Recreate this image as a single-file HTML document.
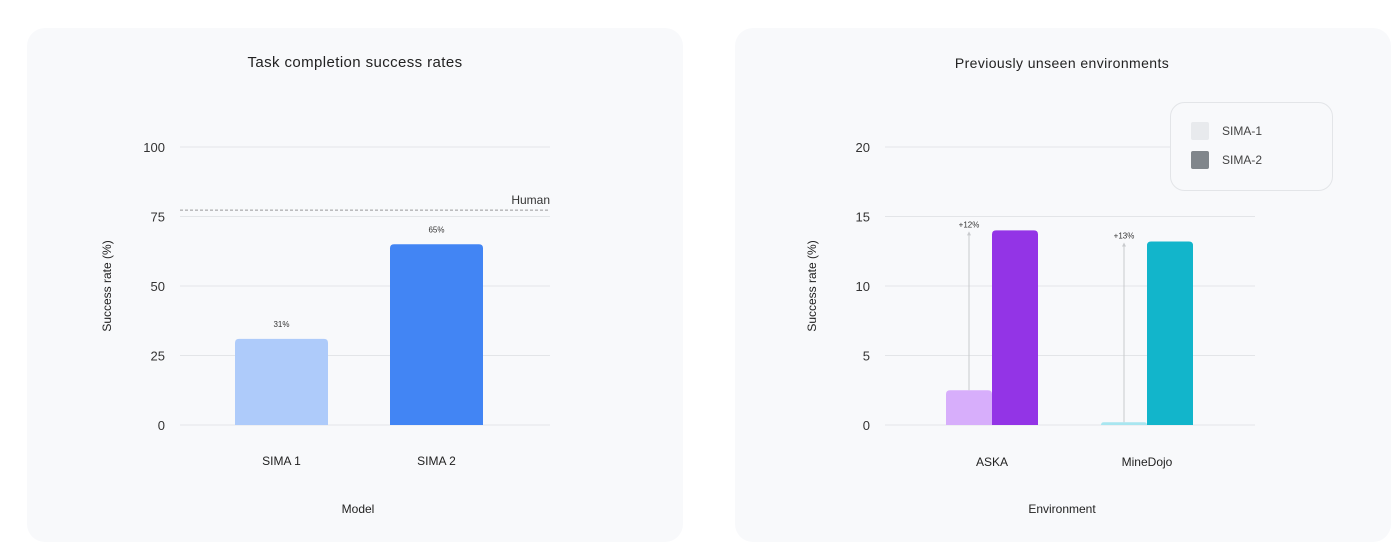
<!DOCTYPE html>
<html><head><meta charset="utf-8"><style>
body{margin:0;width:1400px;height:553px;background:#fff;font-family:"Liberation Sans",sans-serif;overflow:hidden}
.card{position:absolute;top:28px;height:514px;background:#f8f9fb;border-radius:18px}
svg{position:absolute;left:0;top:0}
</style></head><body>
<div class="card" style="left:27px;width:656px"></div>
<div class="card" style="left:735px;width:656px"></div>
<svg id="s" width="1400" height="553"></svg>
<script>
const leftCats=["SIMA 1","SIMA 2"];
const leftVals=[31,65];
const leftLabels=["31%","65%"];
const leftTicks=[0,25,50,75,100];
const humanVal=77.3;
const rightCats=["ASKA","MineDojo"];
const sima1Vals=[2.5,0.2];
const sima2Vals=[14.0,13.2];
const gainLabels=["+12%","+13%"];
const rightTicks=[0,5,10,15,20];

const NS="http://www.w3.org/2000/svg";
const s=document.getElementById('s');
function mk(t,a,txt){const e=document.createElementNS(NS,t);for(const k in a)e.setAttribute(k,a[k]);if(txt!=null)e.textContent=txt;s.appendChild(e);return e;}
function bar(x,y0,w,yT,r,fill){const h=y0-yT;r=Math.min(r,h);return `M${x},${y0}V${yT+r}Q${x},${yT} ${x+r},${yT}H${x+w-r}Q${x+w},${yT} ${x+w},${yT+r}V${y0}Z`;}

// left chart
const L={x0:180,x1:550,y0:425,yT:147,max:100};
const ly=v=>L.y0-(v/L.max)*(L.y0-L.yT);
leftTicks.forEach(t=>{
 let e=mk('line',{x1:L.x0,x2:L.x1,y1:ly(t),y2:ly(t),stroke:'#e3e5e8','stroke-width':1});
 
 e=mk('text',{x:165,y:ly(t)+5,'text-anchor':'end','font-size':13,fill:'#333'},t);
 
});
let e=mk('line',{x1:L.x0,x2:L.x1,y1:ly(humanVal),y2:ly(humanVal),stroke:'#999','stroke-width':1,'stroke-dasharray':'3,2'});

e=mk('text',{x:550,y:ly(humanVal)-6,'text-anchor':'end','font-size':12,fill:'#333'},'Human');

const lcol=['#aecbfa','#4285f4'];
leftCats.forEach((c,i)=>{
 const cx=281.5+i*155;
 let b=mk('path',{d:bar(cx-46.5,L.y0,93,ly(leftVals[i]),4),fill:lcol[i]});
 
 let t=mk('text',{x:cx,y:ly(leftVals[i])-12,'text-anchor':'middle','font-size':8,fill:'#333'},leftLabels[i]);
 
 t=mk('text',{x:cx,y:465,'text-anchor':'middle','font-size':12,fill:'#222'},c);
 
});
e=mk('text',{x:355,y:67,'text-anchor':'middle','font-size':15,'letter-spacing':0.4,fill:'#222'},'Task completion success rates');

e=mk('text',{x:358,y:513,'text-anchor':'middle','font-size':12,fill:'#222'},'Model');

e=mk('text',{x:0,y:0,'text-anchor':'middle','font-size':12,fill:'#222',transform:'translate(111,286) rotate(-90)'},'Success rate (%)');


// right chart
const R={x0:885,x1:1255,y0:425,yT:147,max:20};
const ry=v=>R.y0-(v/R.max)*(R.y0-R.yT);
rightTicks.forEach(t=>{
 let e=mk('line',{x1:R.x0,x2:R.x1,y1:ry(t),y2:ry(t),stroke:'#e3e5e8','stroke-width':1});
 
 e=mk('text',{x:870,y:ry(t)+5,'text-anchor':'end','font-size':13,fill:'#333'},t);
 
});
const c1=['#d7aefb','#a8e6f0'],c2=['#9334e6','#12b5cb'];
rightCats.forEach((c,i)=>{
 const cx=992+i*155;
 const t1=ry(sima1Vals[i]),t2=ry(sima2Vals[i]);
 let b=mk('path',{d:bar(cx-46,R.y0,46,t1,4),fill:c1[i]});
 
 b=mk('path',{d:bar(cx,R.y0,46,t2,4),fill:c2[i]});
 
 const ax=cx-23;
 let a=mk('line',{x1:ax,x2:ax,y1:Math.min(t1,R.y0-2),y2:t2+3,stroke:'#c8cacd','stroke-width':1});
 
 a=mk('path',{d:`M${ax-2},${t2+5}L${ax},${t2+1}L${ax+2},${t2+5}Z`,fill:'#c8cacd'});
 
 let t=mk('text',{x:ax,y:t2-3,'text-anchor':'middle','font-size':8,fill:'#333'},gainLabels[i]);
 
 t=mk('text',{x:cx,y:466,'text-anchor':'middle','font-size':12,fill:'#222'},c);
 
});
e=mk('rect',{x:1170.5,y:102.5,width:162,height:88,rx:14,fill:'#f8f9fb',stroke:'#e3e5e8'});

[['SIMA-1','#e8eaed',131],['SIMA-2','#80868b',160]].forEach(([n,col,y])=>{
 let r=mk('rect',{x:1191,y:y-9,width:18,height:18,rx:2,fill:col});
 
 r=mk('text',{x:1222,y:y+4,'font-size':12,fill:'#444'},n);
 
});
e=mk('text',{x:1062,y:68,'text-anchor':'middle','font-size':14,'letter-spacing':0.4,fill:'#222'},'Previously unseen environments');

e=mk('text',{x:1062,y:513,'text-anchor':'middle','font-size':12,fill:'#222'},'Environment');

e=mk('text',{x:0,y:0,'text-anchor':'middle','font-size':12,fill:'#222',transform:'translate(816,286) rotate(-90)'},'Success rate (%)');

</script>
</body></html>
